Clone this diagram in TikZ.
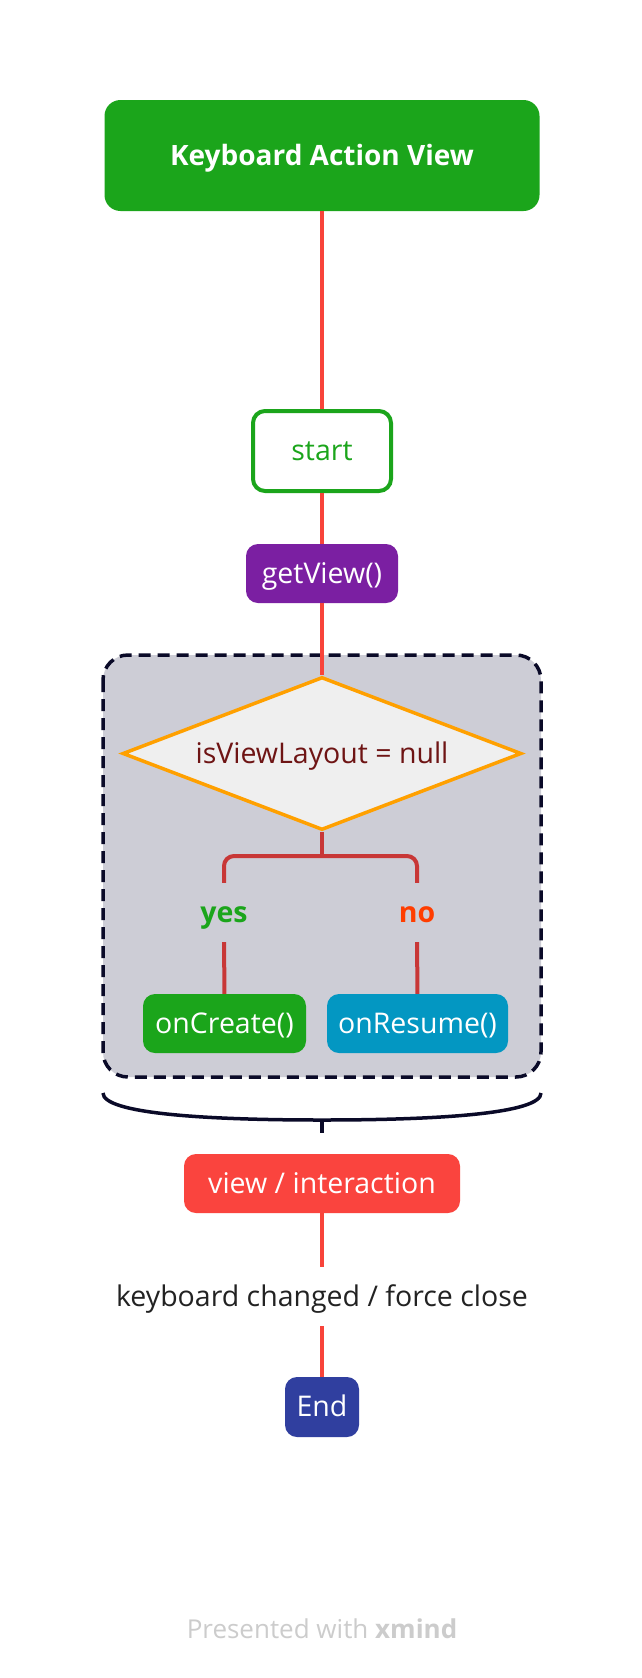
\documentclass[tikz,border=0pt]{standalone}
\usepackage{fontspec}
\setmainfont{Open Sans}
\usetikzlibrary{shapes.geometric}
\definecolor{titlegreen}{RGB}{27,165,27}
\definecolor{linkred}{RGB}{248,68,58}
\definecolor{getpurple}{RGB}{123,31,162}
\definecolor{framegray}{RGB}{205,205,214}
\definecolor{framenavy}{RGB}{10,10,40}
\definecolor{decfill}{RGB}{239,239,239}
\definecolor{decorange}{RGB}{255,160,0}
\definecolor{decred}{RGB}{110,20,20}
\definecolor{branchred}{RGB}{200,55,55}
\definecolor{noorange}{RGB}{255,61,0}
\definecolor{resumeblue}{RGB}{3,151,194}
\definecolor{interred}{RGB}{250,68,62}
\definecolor{endblue}{RGB}{48,63,159}
\definecolor{footgray}{RGB}{204,204,204}
\definecolor{kbdblack}{RGB}{34,34,34}
\tikzset{
  topic/.style={rounded corners=12pt, inner sep=0pt, text=white, minimum height=59pt,
    text height=24pt, text depth=5pt, font=\fontsize{28.5}{30}\selectfont},
  link/.style={draw=linkred, line width=4pt},
  branch/.style={draw=branchred, line width=4pt},
  tag/.style={inner sep=0pt, minimum height=59pt, text height=24pt, text depth=5pt,
    font=\fontsize{28.5}{30}\selectfont}
}
\begin{document}
\begin{tikzpicture}[x=1pt,y=-1pt]
\useasboundingbox[fill=white] (0,0) rectangle (642,1678);
%\draw[step=50,gray,very thin] (0,0) grid (642,1678);
\draw[fill=framegray,draw=framenavy,line width=3.5pt,dash pattern=on 12pt off 7pt,rounded corners=25pt] (103,655) rectangle (541,1077);
\node[topic,fill=titlegreen,minimum width=435pt,minimum height=111pt,rounded corners=16pt,font=\fontsize{28}{30}\selectfont\bfseries] (title) at (322,155.5) {Keyboard Action View};
\node[topic,draw=titlegreen,fill=white,text=titlegreen,line width=4pt,minimum width=138pt,minimum height=80pt] (start) at (322,451) {start};
\node[topic,fill=getpurple,minimum width=152pt] (getview) at (322,573.5) {getView()};
\node[diamond,draw=decorange,fill=decfill,line width=3.5pt,aspect=2.6,inner sep=0pt,minimum width=399pt,minimum height=153pt,text=decred,text height=24pt,text depth=5pt,font=\fontsize{28.5}{30}\selectfont] (check) at (322,753.5) {isViewLayout = null};
\coordinate (fork) at (322,856);
\node[tag,text=titlegreen,font=\fontsize{28.5}{30}\selectfont\bfseries] (yes) at (224,912.5) {yes};
\node[tag,text=noorange,font=\fontsize{28.5}{30}\selectfont\bfseries] (no) at (417,912.5) {no};
\node[topic,fill=titlegreen,minimum width=163pt] (oncreate) at (224.5,1023.5) {onCreate()};
\node[topic,fill=resumeblue,minimum width=181pt] (onresume) at (417.5,1023.5) {onResume()};
\draw[link] (title) -- (start);
\draw[link] (start) -- (getview);
\draw[link] (getview) -- (check);
\draw[branch] (check.south) -- (fork);
\draw[branch,rounded corners=10pt] (yes.north) |- (fork) -| (no.north);
\draw[branch] (yes) -- (oncreate);
\draw[branch] (no) -- (onresume);
% brace under the frame
\coordinate (bracel) at (103,1093);
\coordinate (bracem) at (322,1120);
\coordinate (bracer) at (541,1093);
\coordinate (bracetip) at (322,1133);
\draw[framenavy,line width=3.5pt] (bracel) .. controls (103,1113) and (200,1120) .. (bracem) .. controls (444,1120) and (541,1113) .. (bracer);
\draw[framenavy,line width=3.5pt] (bracem) -- (bracetip);
\node[topic,fill=interred,minimum width=276pt] (inter) at (322,1183.5) {view / interaction};
\node[tag,text=kbdblack] (kbd) at (322,1296.5) {keyboard changed / force close};
\node[topic,fill=endblue,minimum width=74pt,minimum height=60pt] (end) at (322,1407) {End};
\draw[link] (inter) -- (kbd);
\draw[link] (kbd) -- (end);
\node[tag,text=footgray,font=\fontsize{26}{30}\selectfont] (footer) at (322,1629) {Presented with \textbf{xmind}};
\end{tikzpicture}
\end{document}
